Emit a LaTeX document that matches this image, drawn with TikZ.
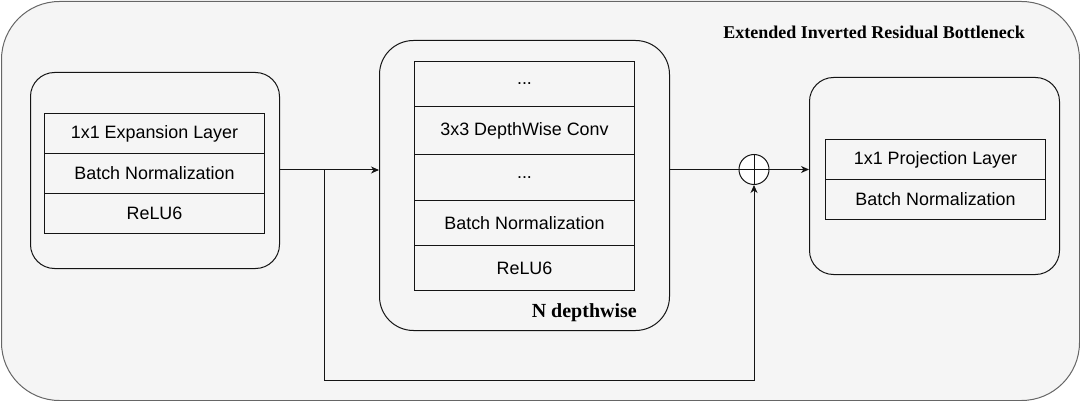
\documentclass[tikz,border=0pt]{standalone}
\usepackage{fontspec}
\setmainfont{Liberation Sans}
\newfontfamily\serifbold{Liberation Serif}
\usetikzlibrary{arrows.meta}
\definecolor{outerfill}{RGB}{245,245,245}
\definecolor{outerdraw}{RGB}{102,102,102}
\definecolor{ink}{RGB}{20,20,20}
\begin{document}
\begin{tikzpicture}[x=1pt,y=-1pt,
  layer/.style={draw=ink, minimum width=220pt, inner sep=0pt, anchor=north west,
    line width=1pt, font=\fontsize{17.9}{20}\selectfont},
  group/.style={draw=ink, rounded corners=#1, line width=1pt, anchor=north west, inner sep=0pt},
  conn/.style={draw=ink, line width=1pt},
  tip/.style={-{Stealth[length=8pt,width=7pt,inset=2.5pt]}},
  heading/.style={font=\serifbold\bfseries\fontsize{#1}{22}\selectfont, inner sep=0pt}
]
\useasboundingbox (0,0) rectangle (1080,401);
% outer container
\node[draw=outerdraw, fill=outerfill, rounded corners=58pt, line width=1pt,
  minimum width=1078pt, minimum height=399pt, anchor=north west, inner sep=0pt] (outer) at (1,1) {};
\node[heading=18, anchor=base east] (title) at (1025,38.5) {Extended Inverted Residual Bottleneck};
% left group
\node[group=24pt, minimum width=249pt, minimum height=196pt] (leftbox) at (30,72) {};
\node[layer, minimum height=40pt] (e1) at (44,113) {1x1 Expansion Layer};
\node[layer, minimum height=40pt] (e2) at (44,153) {Batch Normalization};
\node[layer, minimum height=40pt] (e3) at (44,193) {ReLU6};
% middle group
\node[group=34pt, minimum width=290pt, minimum height=290pt] (midbox) at (379,40) {};
\node[layer, minimum height=45pt] (m1) at (414,61) {...};
\node[layer, minimum height=48pt] (m2) at (414,106) {3x3 DepthWise Conv};
\node[layer, minimum height=46pt] (m3) at (414,154) {...};
\node[layer, minimum height=45pt] (m4) at (414,200) {Batch Normalization};
\node[layer, minimum height=45pt] (m5) at (414,245) {ReLU6};
\node[heading=20, anchor=base east] (ndw) at (637,317.5) {N depthwise};
% right group
\node[group=24pt, minimum width=250pt, minimum height=197pt] (rightbox) at (809,77) {};
\node[layer, minimum height=40pt] (r1) at (825,139) {1x1 Projection Layer};
\node[layer, minimum height=40pt] (r2) at (825,179) {Batch Normalization};
% adder
\node[circle, draw=ink, line width=1pt, fill=white, minimum size=30pt, inner sep=0pt] (plus) at (754,169.5) {};
\draw[conn] (plus.north) -- (plus.south) (plus.west) -- (plus.east);
% connectors
\coordinate (br) at (324.5,170);
\coordinate (low) at (324.5,380);
\draw[conn, tip] (leftbox.east |- br) -- (br -| midbox.west);
\draw[conn, tip] (br) -- (low) -| (plus.south);
\draw[conn] (plus.west -| midbox.east) -- (plus.west);
\draw[conn, tip] (plus.east) -- (plus.east -| rightbox.west);
\end{tikzpicture}
\end{document}
